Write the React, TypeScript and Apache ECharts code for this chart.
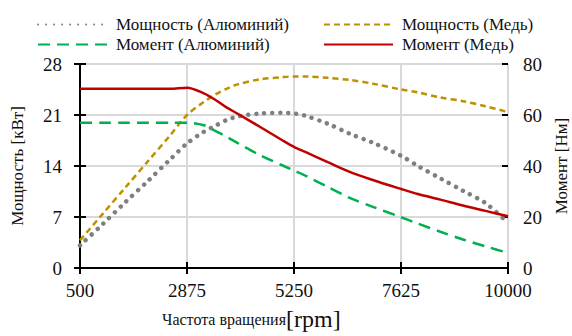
import React, { useEffect, useRef } from "react";
import * as echarts from "echarts";

const rpm = [500, 1000, 1500, 2000, 2500, 2875, 3250, 3500, 3750, 4000, 4500, 5000, 5250, 5500, 6000, 6500, 7000, 7625, 8000, 8500, 9000, 9500, 10000];
const powerAl = [3.1, 6.0, 9.0, 11.9, 14.9, 17.1, 18.7, 19.5, 20.3, 20.8, 21.2, 21.3, 21.2, 20.9, 19.8, 18.4, 17.2, 15.4, 14.0, 12.3, 10.6, 8.9, 6.2];
const powerCu = [3.8, 7.4, 11.0, 14.6, 18.2, 21.0, 22.8, 23.8, 24.6, 25.2, 25.9, 26.2, 26.3, 26.3, 26.1, 25.8, 25.3, 24.5, 24.1, 23.4, 22.9, 22.2, 21.4];
const torqueAl = [57, 57, 57, 57, 57, 57, 56, 53.8, 51.5, 49, 44.2, 40.2, 38.2, 36.2, 31.8, 27.4, 24, 19.9, 17.4, 14.2, 11.2, 8.5, 5.9];
const torqueCu = [70.3, 70.3, 70.3, 70.3, 70.3, 70.7, 68.5, 66, 63, 60.5, 55.3, 50, 47.5, 45.5, 41.5, 37.6, 34.5, 31, 29, 26.8, 24.5, 22.4, 20.3];
const xTicks = [500, 2875, 5250, 7625, 10000];
const leftTicks = [0, 7, 14, 21, 28];
const rightTicks = [0, 20, 40, 60, 80];
const names = ["Мощность (Алюминий)", "Мощность (Медь)", "Момент (Алюминий)", "Момент (Медь)"];

const X0 = xTicks[0];
const FONT = "'Liberation Serif', 'Times New Roman', serif";

export default function App() {
  const ref = useRef<HTMLDivElement>(null);
  useEffect(() => {
    if (!ref.current) return;
    const chart = echarts.init(ref.current, null, { renderer: "svg" });
    const xStep = xTicks[1] - xTicks[0];
    const xMax = xTicks[xTicks.length - 1] - X0;
    const pts = (vals: number[]) => rpm.map((r, i) => [r - X0, vals[i]]);
    const axisLine = { show: true, lineStyle: { color: "#000", width: 2 } };
    const tickOut = { show: true, inside: false, length: 6, lineStyle: { color: "#000", width: 2 } };
    const tickIn = { show: true, inside: true, length: 6, lineStyle: { color: "#000", width: 2 } };
    const labelStyle = { fontFamily: FONT, fontSize: 19, color: "#111" };
    const legendBase = {
      itemWidth: 69,
      itemHeight: 14,
      padding: 0,
      itemStyle: { opacity: 0 },
      textStyle: { fontFamily: FONT, fontSize: 17, color: "#111", padding: [0, 0, 0, 4] },
      selectedMode: false,
    };
    chart.setOption({
      animation: false,
      grid: { left: 80, right: 64, top: 64, bottom: 68, containLabel: false, outerBoundsMode: "none" },
      legend: [
        { ...legendBase, data: [names[0]], left: 37, top: 16 },
        { ...legendBase, data: [names[1]], left: 323, top: 16 },
        { ...legendBase, data: [names[2]], left: 37, top: 36 },
        { ...legendBase, data: [names[3]], left: 323, top: 36 },
      ],
      xAxis: [
        {
          type: "value", min: 0, max: xMax, interval: xStep,
          axisLine, axisTick: tickOut,
          axisLabel: { ...labelStyle, margin: 13, formatter: (v: number) => String(v + X0) },
          splitLine: { show: true, lineStyle: { color: "#d9d9d9", width: 2 } },
        },
        {
          type: "value", min: 0, max: xMax, interval: xStep, position: "bottom",
          axisLine: { show: false }, axisTick: tickIn, axisLabel: { show: false }, splitLine: { show: false },
        },
      ],
      yAxis: [
        {
          type: "value", min: leftTicks[0], max: leftTicks[4], interval: leftTicks[1] - leftTicks[0], position: "left",
          axisLine, axisTick: tickOut,
          axisLabel: { ...labelStyle, margin: 18 },
          splitLine: { show: true, lineStyle: { color: "#d9d9d9", width: 2 } },
          name: "Мощность [кВт]", nameLocation: "middle", nameGap: 54,
          nameTextStyle: { fontFamily: FONT, fontSize: 17, color: "#111" },
        },
        {
          type: "value", min: rightTicks[0], max: rightTicks[4], interval: rightTicks[1] - rightTicks[0], position: "right",
          axisLine, axisTick: tickOut,
          axisLabel: { ...labelStyle, margin: 15 },
          splitLine: { show: false },
          name: "Момент [Нм]", nameLocation: "middle", nameGap: 45,
          nameTextStyle: { fontFamily: FONT, fontSize: 17, color: "#111" },
        },
        {
          type: "value", min: leftTicks[0], max: leftTicks[4], interval: leftTicks[1] - leftTicks[0], position: "left",
          axisLine: { show: false }, axisTick: tickIn, axisLabel: { show: false }, splitLine: { show: false },
        },
        {
          type: "value", min: rightTicks[0], max: rightTicks[4], interval: rightTicks[1] - rightTicks[0], position: "right",
          axisLine: { show: false }, axisTick: tickIn, axisLabel: { show: false }, splitLine: { show: false },
        },
      ],
      graphic: [
        {
          type: "text", left: 162, top: 307,
          style: {
            text: "{a|Частота вращения}{b|[rpm]}",
            rich: {
              a: { fontFamily: FONT, fontSize: 16, fill: "#111" },
              b: { fontFamily: FONT, fontSize: 24, fill: "#111" },
            },
          },
        },
      ],
      series: [
        {
          name: names[0], type: "line", xAxisIndex: 0, yAxisIndex: 0, data: pts(powerAl),
          smooth: 0.3, symbol: "none", z: 3,
          lineStyle: { color: "#7f7f7f", width: 4.5, type: [0.01, 8], cap: "round" },
          itemStyle: { color: "#7f7f7f" },
        },
        {
          name: names[1], type: "line", xAxisIndex: 0, yAxisIndex: 0, data: pts(powerCu),
          smooth: 0.3, symbol: "none", z: 3,
          lineStyle: { color: "#BF9000", width: 2.5, type: [6, 4] },
          itemStyle: { color: "#BF9000" },
        },
        {
          name: names[2], type: "line", xAxisIndex: 0, yAxisIndex: 1, data: pts(torqueAl),
          smooth: 0.3, symbol: "none", z: 3,
          lineStyle: { color: "#00B050", width: 2.5, type: [12, 7] },
          itemStyle: { color: "#00B050" },
        },
        {
          name: names[3], type: "line", xAxisIndex: 0, yAxisIndex: 1, data: pts(torqueCu),
          smooth: 0.3, symbol: "none", z: 3,
          lineStyle: { color: "#C00000", width: 2.5 },
          itemStyle: { color: "#C00000" },
        },
      ],
    });
    return () => chart.dispose();
  }, []);
  return <div ref={ref} style={{ width: 572, height: 336, position: "absolute", left: 0, top: 0 }} />;
}
